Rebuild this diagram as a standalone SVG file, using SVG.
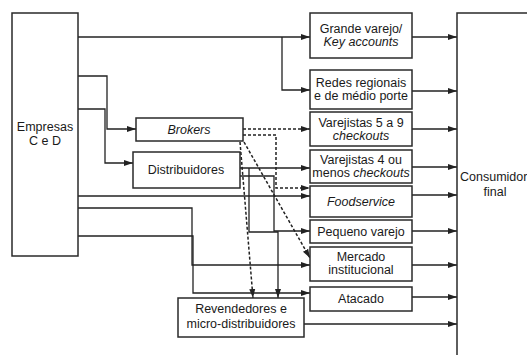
<svg xmlns="http://www.w3.org/2000/svg" width="527" height="355" viewBox="0 0 527 355">
<style>
.box{fill:#fff;stroke:#2a2a2a;stroke-width:1.5}
.ln{fill:none;stroke:#222;stroke-width:1.3}
.dl{fill:none;stroke:#222;stroke-width:1.5;stroke-dasharray:3 2}
text{font-family:"Liberation Sans",Arial,sans-serif;font-size:12.5px;fill:#1a1a1a;text-anchor:middle}
.i{font-style:italic}
</style>
<defs>
<marker id="ah" markerUnits="userSpaceOnUse" markerWidth="10" markerHeight="8" refX="9" refY="4" orient="auto">
<path d="M0,1 L9,4 L0,7 Z" fill="#222"/>
</marker>
</defs>
<rect width="527" height="355" fill="#fff"/>
<g id="connectors">
<path class="ln" d="M78,37 H310" marker-end="url(#ah)"/>
<path class="ln" d="M282,37 V90 H310" marker-end="url(#ah)"/>
<path class="ln" d="M78,76 H107 V129 H136" marker-end="url(#ah)"/>
<path class="ln" d="M78,109 H105 V163 H133" marker-end="url(#ah)"/>
<path class="ln" d="M78,196 H310" marker-end="url(#ah)"/>
<path class="ln" d="M78,208 H192 V265 H310" marker-end="url(#ah)"/>
<path class="ln" d="M78,236 H193 V293 H310" marker-end="url(#ah)"/>
<path class="ln" d="M240,168 H310" marker-end="url(#ah)"/>
<path class="ln" d="M249,168 V232 H278 V298" marker-end="url(#ah)"/>
<path class="ln" d="M240,176 H274 V231 H310" marker-end="url(#ah)"/>
<path class="dl" d="M243,129 H310" marker-end="url(#ah)"/>
<path class="dl" d="M243,135 H276 V188 H310" marker-end="url(#ah)"/>
<path class="dl" d="M244,142 L310,258" marker-end="url(#ah)"/>
<path class="dl" d="M240,142 L253,298" marker-end="url(#ah)"/>
<path class="ln" d="M412,37 H457" marker-end="url(#ah)"/>
<path class="ln" d="M412,91 H457" marker-end="url(#ah)"/>
<path class="ln" d="M412,129 H457" marker-end="url(#ah)"/>
<path class="ln" d="M412,167 H457" marker-end="url(#ah)"/>
<path class="ln" d="M412,195 H457" marker-end="url(#ah)"/>
<path class="ln" d="M412,231 H457" marker-end="url(#ah)"/>
<path class="ln" d="M412,265 H457" marker-end="url(#ah)"/>
<path class="ln" d="M412,297 H457" marker-end="url(#ah)"/>
<path class="ln" d="M304,324 H457" marker-end="url(#ah)"/>
</g>
<g id="empresas"><rect class="box" x="12" y="13" width="66" height="243"/><text x="45" y="131">Empresas</text><text x="45" y="145">C e D</text></g>
<g id="consumidor"><rect class="box" x="457" y="13" width="80" height="350"/><text x="460" y="181" style="text-anchor:start">Consumidor</text><text x="495" y="196">final</text></g>
<g id="grande"><rect class="box" x="310" y="13" width="102" height="45"/><text x="361" y="33">Grande varejo/</text><text x="361" y="46" class="i">Key accounts</text></g>
<g id="redes"><rect class="box" x="310" y="70" width="102" height="39"/><text x="361" y="87">Redes regionais</text><text x="361" y="100">e de médio porte</text></g>
<g id="var59"><rect class="box" x="310" y="112" width="102" height="34"/><text x="361" y="127">Varejistas 5 a 9</text><text x="361" y="140" class="i">checkouts</text></g>
<g id="var4"><rect class="box" x="310" y="150" width="102" height="33"/><text x="361" y="164">Varejistas 4 ou</text><text x="361" y="177">menos <tspan class="i">checkouts</tspan></text></g>
<g id="food"><rect class="box" x="310" y="186" width="102" height="31"/><text x="361" y="206" class="i">Foodservice</text></g>
<g id="pequeno"><rect class="box" x="310" y="220" width="102" height="23"/><text x="361" y="236">Pequeno varejo</text></g>
<g id="mercado"><rect class="box" x="310" y="247" width="102" height="34"/><text x="361" y="261">Mercado</text><text x="361" y="274">institucional</text></g>
<g id="atacado"><rect class="box" x="310" y="287" width="102" height="24"/><text x="361" y="303">Atacado</text></g>
<g id="revendedores"><rect class="box" x="178" y="298" width="126" height="39"/><text x="241" y="313">Revendedores e</text><text x="241" y="328">micro-distribuidores</text></g>
<g id="brokers"><rect class="box" x="136" y="118" width="107" height="23"/><text x="189" y="134" class="i">Brokers</text></g>
<g id="distribuidores"><rect class="box" x="133" y="152" width="107" height="36"/><text x="186" y="174">Distribuidores</text></g>
</svg>
